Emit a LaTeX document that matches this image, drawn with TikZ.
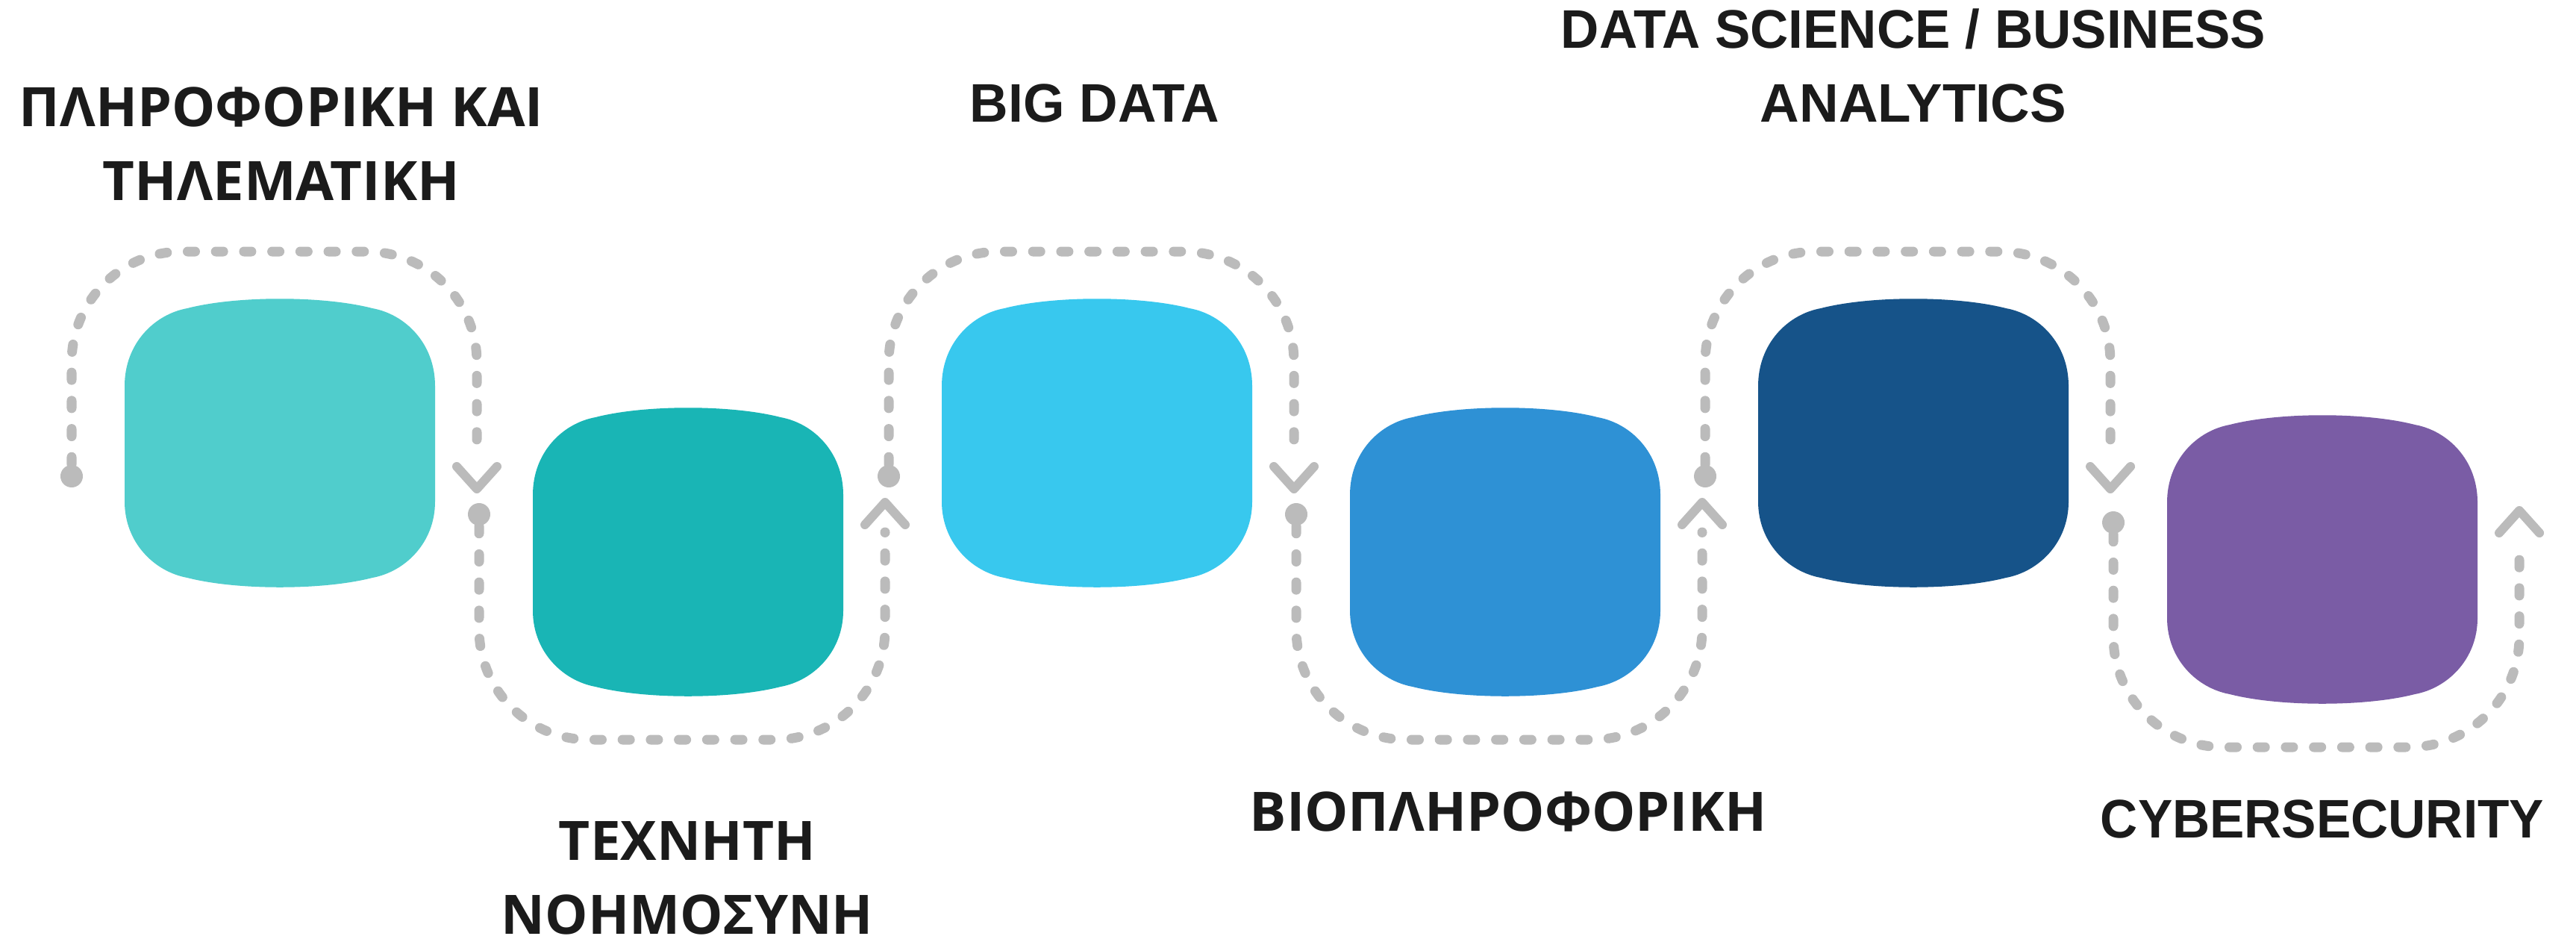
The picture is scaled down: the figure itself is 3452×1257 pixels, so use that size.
\documentclass[tikz,border=0pt]{standalone}
\usepackage{fontspec}
\usepackage{graphicx}
\setmainfont{Open Sans}
\newfontfamily\latfont{Liberation Sans}
\usetikzlibrary{calc}
\definecolor{cA}{HTML}{50CDCC}
\definecolor{cB}{HTML}{19B5B5}
\definecolor{cC}{HTML}{38C8EE}
\definecolor{cD}{HTML}{2E91D5}
\definecolor{cE}{HTML}{165389}
\definecolor{cF}{HTML}{7A5CA5}
\definecolor{dashgrey}{HTML}{BBBBBB}
\definecolor{ink}{HTML}{1B1B1B}
\newlength\mytw
\newcommand\fitw[2]{\settowidth\mytw{#2}\pgfmathsetmacro\fitr{#1/\mytw}\scalebox{\fitr}[1]{#2}}
\tikzset{
  sq/.pic={
    \fill[#1] (0,117) -- (0,272)
      .. controls (0,327) and (40,366) .. (84,374)
      .. controls (150,391) and (266,391) .. (332,374)
      .. controls (376,366) and (416,327) .. (416,272)
      -- (416,117)
      .. controls (416,60) and (376,21) .. (332,13)
      .. controls (266,-4) and (150,-4) .. (84,13)
      .. controls (40,21) and (0,60) .. (0,117) -- cycle;
    \coordinate (-c) at (208,193);
  },
  dot/.style={circle, fill=dashgrey, minimum size=0.3cm, inner sep=0pt},
  looppath/.style={draw=dashgrey, line width=0.13cm, line cap=round,
    dash pattern=on 0.1cm off 0.277cm, rounded corners=1.48cm},
  chev/.style={draw=dashgrey, line width=0.12cm, line cap=round, line join=round},
  lbl/.style={text=ink, font=\bfseries\fontsize{20.7}{27.9}\selectfont, align=center, inner sep=0pt, anchor=base},
}
\begin{document}
\begin{tikzpicture}[x=0.01cm, y=-0.01cm]
\useasboundingbox (0,0) rectangle (3452,1257);
% boxes
\pic (b1) at (167,400) {sq=cA};
\pic (b2) at (714,546) {sq=cB};
\pic (b3) at (1262,400) {sq=cC};
\pic (b4) at (1809,546) {sq=cD};
\pic (b5) at (2356,400) {sq=cE};
\pic (b6) at (2904,556) {sq=cF};
% levels
\coordinate (topA) at (0,337);
\coordinate (botA) at (0,991);
\coordinate (botB) at (0,1001);
% upper loops
\node[dot] (d1) at (96,638) {};
\coordinate (tip1) at (639,655);
\node[dot] (d3) at (1191,638) {};
\coordinate (tip3) at (1734,655);
\node[dot] (d5) at (2285,638) {};
\coordinate (tip5) at (2828,655);
\foreach \d/\t in {d1/tip1, d3/tip3, d5/tip5}{
  \draw[looppath] (\d) -- (\d |- topA) -- (\t |- topA) -- ($(\t)+(0,-40)$);
  \draw[chev] ($(\t)+(-27,-30)$) -- (\t) -- ($(\t)+(27,-30)$);
}
% lower loops
\node[dot] (d2) at (642,689) {};
\coordinate (tip2) at (1186,673);
\node[dot] (d4) at (1737,689) {};
\coordinate (tip4) at (2281,673);
\foreach \d/\t in {d2/tip2, d4/tip4}{
  \draw[looppath] (\d) -- (\d |- botA) -- (\t |- botA) -- ($(\t)+(0,40)$);
  \draw[chev] ($(\t)+(-27,30)$) -- (\t) -- ($(\t)+(27,30)$);
}
\node[dot] (d6) at (2832,700) {};
\coordinate (tip6) at (3376,684);
\draw[looppath] (d6) -- (d6 |- botB) -- (tip6 |- botB) -- ($(tip6)+(0,40)$);
\draw[chev] ($(tip6)+(-27,30)$) -- (tip6) -- ($(tip6)+(27,30)$);
% labels (anchor base = baseline of the last line)
\node[lbl] (l1) at (377,268) {\fitw{7.02cm}{ΠΛΗΡΟΦΟΡΙΚΗ ΚΑΙ}\\\fitw{4.78cm}{ΤΗΛΕΜΑΤΙΚΗ}};
\node[lbl] (l3) at (1467,163) {\latfont\fitw{3.34cm}{BIG DATA}};
\node[lbl] (l5) at (2564,163) {\latfont\fitw{9.44cm}{DATA SCIENCE / BUSINESS}\\\latfont\fitw{4.10cm}{ANALYTICS}};
\node[lbl] (l2) at (921,1251) {\fitw{3.44cm}{ΤΕΧΝΗΤΗ}\\\fitw{4.98cm}{ΝΟΗΜΟΣΥΝΗ}};
\node[lbl] (l4) at (2021,1113) {\fitw{6.92cm}{ΒΙΟΠΛΗΡΟΦΟΡΙΚΗ}};
\node[lbl] (l6) at (3112,1122) {\latfont\fitw{5.94cm}{CYBERSECURITY}};
\end{tikzpicture}
\end{document}
